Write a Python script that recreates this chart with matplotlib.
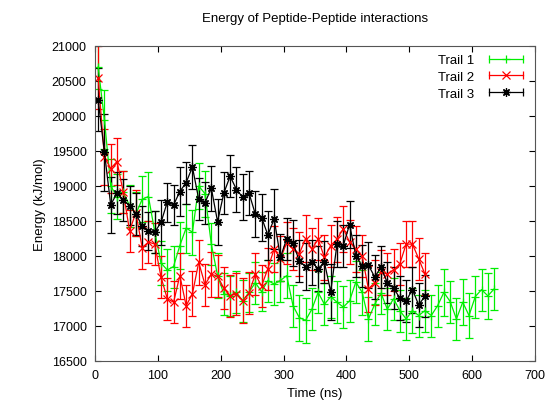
import numpy as np
import matplotlib
matplotlib.use("Agg")
import matplotlib.pyplot as plt
from matplotlib.lines import Line2D
from matplotlib.legend_handler import HandlerLine2D, HandlerTuple

plt.rcParams["font.family"] = ["Liberation Sans", "DejaVu Sans"]

# time axis (ns)
time_1 = np.arange(5, 640, 10)
time_23 = np.arange(5, 530, 10)

# Trail 1 (green)
energy_1 = [20700, 19950, 19000, 18850, 18910, 18720, 18600, 18810, 18850, 18350,
            17900, 17800, 17850, 18150, 18400, 18340, 19000, 18890, 18170, 17720,
            17460, 17430, 17480, 17360, 17480, 17620, 17490, 17650, 17600, 17650,
            17720, 17290, 17120, 17080, 17240, 17480, 17310, 17420, 17340, 17270,
            17360, 17630, 17480, 17100, 17310, 17470, 17240, 17390, 17220, 17100,
            17220, 17150, 17220, 17150, 17290, 17480, 17350, 17100, 17340, 17150,
            17420, 17520, 17430, 17530]
err_1 = [320, 420, 380, 320, 300, 300, 320, 330, 350, 300,
         320, 300, 300, 330, 350, 320, 330, 330, 300, 320,
         300, 280, 300, 300, 280, 300, 280, 300, 300, 300,
         320, 300, 330, 320, 300, 300, 300, 300, 300, 300,
         300, 300, 320, 320, 300, 300, 300, 300, 300, 300,
         320, 300, 300, 300, 300, 330, 300, 300, 330, 320,
         300, 300, 330, 300]

# Trail 2 (red)
energy_2 = [20550, 19410, 19250, 19350, 18910, 18360, 18620, 18120, 18200, 18170,
            17700, 17390, 17340, 17720, 17290, 17460, 17910, 17590, 17740, 17710,
            17540, 17430, 17460, 17360, 17470, 17740, 17570, 17820, 18100, 17960,
            18190, 18100, 18030, 18250, 18100, 18240, 17980, 18150, 18240, 18390,
            18200, 18100, 18000, 17530, 17620, 17770, 17740, 17800, 17890, 18170,
            18170, 17960, 17740]
err_2 = [450, 400, 350, 330, 300, 300, 330, 300, 300, 300,
         300, 300, 300, 330, 300, 320, 320, 300, 320, 300,
         300, 300, 300, 320, 300, 300, 300, 300, 330, 320,
         300, 300, 320, 330, 300, 300, 320, 300, 320, 330,
         320, 330, 300, 330, 320, 320, 300, 300, 300, 330,
         330, 300, 300]

# Trail 3 (black)
energy_3 = [20230, 19480, 18730, 18900, 18800, 18720, 18600, 18430, 18360, 18340,
            18480, 18770, 18730, 18920, 19050, 19270, 18810, 18760, 18970, 18490,
            18900, 19140, 18950, 18840, 18900, 18600, 18550, 18300, 18530, 17980,
            18250, 18190, 17930, 17850, 17910, 17820, 17910, 17490, 18170, 18150,
            18450, 18000, 17860, 17870, 17700, 17840, 17620, 17540, 17400, 17360,
            17520, 17300, 17430]
err_3 = [450, 550, 400, 300, 300, 280, 300, 280, 270, 300,
         320, 280, 280, 350, 300, 310, 300, 300, 320, 330,
         300, 300, 320, 330, 320, 330, 330, 350, 430, 330,
         300, 330, 300, 330, 320, 320, 300, 400, 330, 300,
         330, 300, 300, 330, 320, 300, 290, 300, 320, 300,
         330, 310, 300]

fig = plt.figure(figsize=(5.49, 4.10), dpi=100)
ax = fig.add_axes([95 / 549, 48 / 410, 440 / 549, 315 / 410])

series = [
    (time_1, energy_1, err_1, "#00ee00", "+", "Trail 1"),
    (time_23, energy_2, err_2, "#ff0000", "x", "Trail 2"),
    (time_23, energy_3, err_3, "#000000", (8, 2, 0), "Trail 3"),
]
handles, labels, hmap = [], [], {tuple: HandlerTuple(ndivide=1, pad=0)}
for t, e, er, col, mk, lab in series:
    ax.errorbar(t, e, yerr=er, color=col, marker=mk, markersize=6,
                linewidth=0.9, elinewidth=0.9, capsize=3, capthick=0.9,
                markeredgewidth=0.9)
    caps = Line2D([], [], color=col, marker="|", markersize=6, linewidth=0.9,
                  markeredgewidth=0.9)
    mid = Line2D([], [], color=col, marker=mk, markersize=6, linewidth=0,
                 markeredgewidth=0.9)
    hmap[caps] = HandlerLine2D(numpoints=2)
    hmap[mid] = HandlerLine2D(numpoints=1)
    handles.append((caps, mid))
    labels.append(lab)

ax.set_xlim(0, 700)
ax.set_ylim(16500, 21000)
ax.set_xticks(range(0, 701, 100))
ax.set_yticks(range(16500, 21001, 500))
ax.tick_params(direction="in", top=True, right=True, labelsize=9, length=4, pad=6)
for s in ax.spines.values():
    s.set_color("#555555")

ax.set_title("Energy of Peptide-Peptide interactions", fontsize=9.5, pad=18)
ax.set_xlabel("Time (ns)", fontsize=9.5)
ax.set_ylabel("Energy (kJ/mol)", fontsize=9.5)

ax.legend(handles, labels, handler_map=hmap, loc="upper right", frameon=False,
          markerfirst=False, fontsize=9.5, handlelength=3.2, labelspacing=0.35,
          borderaxespad=0.2)

fig.savefig("out.png", dpi=100)
